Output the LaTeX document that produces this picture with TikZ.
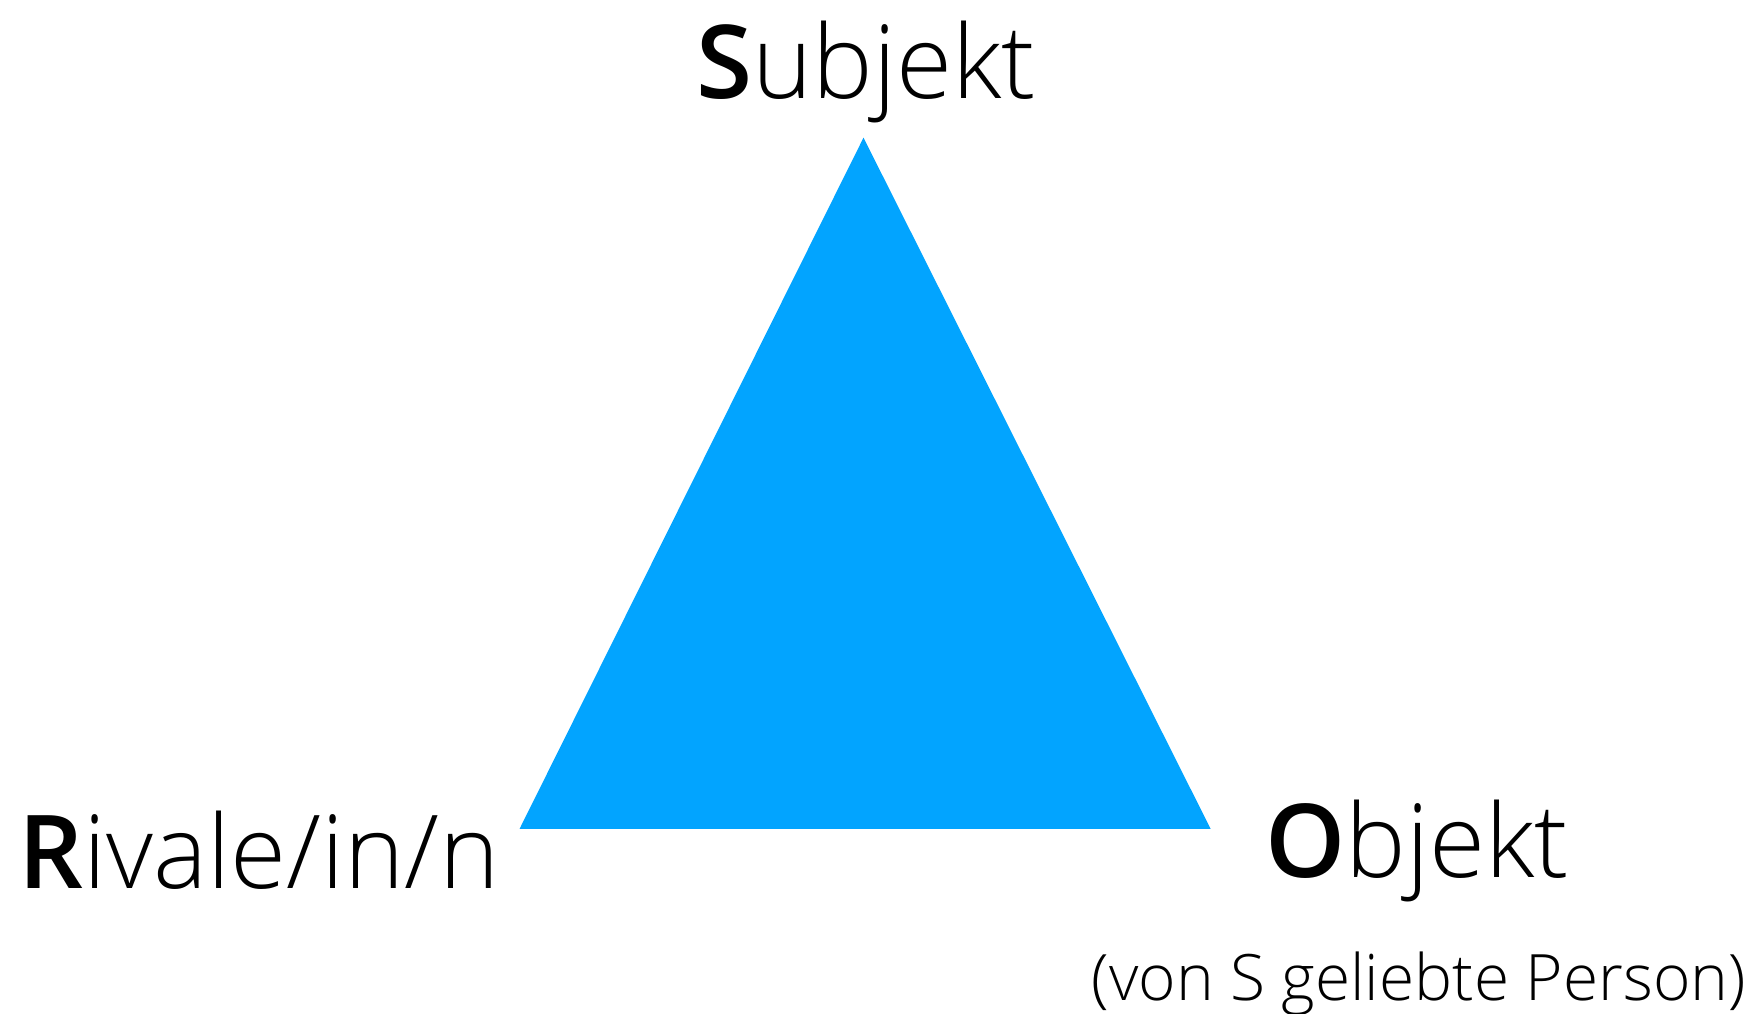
\documentclass[tikz,border=0pt]{standalone}
\usepackage{fontspec}
\setsansfont{Open Sans}[UprightFont=* Light, BoldFont=* Semibold]
\definecolor{triblue}{RGB}{2,164,255}
\begin{document}
\begin{tikzpicture}[x=1pt,y=1pt,
  big/.style={inner sep=0pt, font=\sffamily\fontsize{102}{120}\selectfont},
  small/.style={inner sep=0pt, font=\sffamily\fontsize{64}{76}\selectfont}]
  \useasboundingbox (0,0) rectangle (1756,1013);
  % corners of the triangle
  \coordinate (top) at (863.5,875.3);
  \coordinate (left) at (519.6,184.2);
  \coordinate (right) at (1210.6,184.2);
  \fill[triblue] (top) -- (left) -- (right) -- cycle;
  % labels
  \node[big, anchor=base] (subj) at (866,914.4) {\textbf{S}ubjekt};
  \node[big, anchor=base west] (riv) at (18,125) {\textbf{R}ivale/in/n};
  \node[big, anchor=base west] (obj) at (1265,136) {\textbf{O}bjekt};
  \node[small, anchor=base east] (pers) at (1746,13) {(von S geliebte Person)};
\end{tikzpicture}
\end{document}
